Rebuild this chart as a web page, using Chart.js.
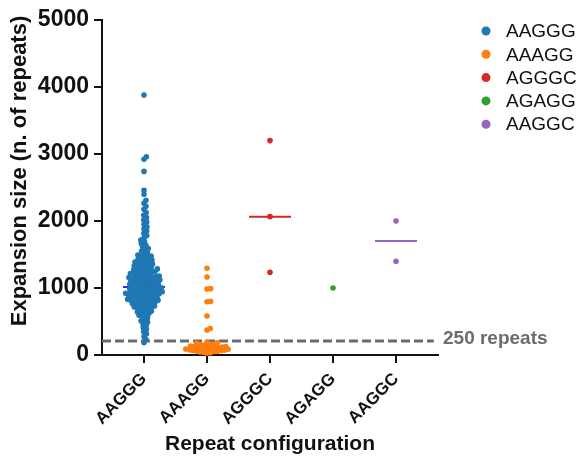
<!DOCTYPE html>
<html><head><meta charset="utf-8">
<script src="https://cdn.jsdelivr.net/npm/chart.js@4.4.1/dist/chart.umd.min.js"></script>
<style>html,body{margin:0;padding:0;background:#fff}</style>
</head><body>
<canvas id="c" width="579" height="465"></canvas>
<script>
const categories = ['AAGGG', 'AAAGG', 'AGGGC', 'AGAGG', 'AAGGC'];
const pointColors = ['#1f77b4', '#ff7f0e', '#d62728', '#2ca02c', '#9467bd'];

const valuesAAGGG = [
  185, 230, 275, 315, 350, 385, 410, 440, 465, 490,
  510, 530, 555, 575, 595,
  605, 618, 630, 643, 656, 670, 683, 695,
  702, 710, 718, 725, 733, 740, 748, 756, 764, 772, 780, 788, 796,
  801, 807, 813, 819, 825, 831, 837, 843, 849, 855, 861, 867, 873, 879, 885, 891, 897,
  900, 905, 911, 916, 922, 927, 933, 938, 944, 949, 955, 960, 966, 971, 977, 982, 988, 994,
  1002, 1008, 1014, 1020, 1027, 1033, 1039, 1045, 1052, 1058, 1064, 1071, 1077, 1084, 1091, 1097,
  1104, 1108, 1111, 1119, 1126, 1134, 1138, 1141, 1149, 1156, 1164, 1168, 1172, 1180, 1188, 1196,
  1205, 1210, 1215, 1225, 1235, 1240, 1245, 1255, 1265, 1270, 1275, 1285, 1295,
  1306, 1312, 1318, 1330, 1343, 1350, 1356, 1369, 1382, 1388, 1395,
  1408, 1418, 1425, 1442, 1458, 1465, 1475, 1492,
  1510, 1530, 1550, 1570, 1590,
  1612, 1637, 1662, 1688, 1715, 1748, 1782,
  1815, 1850, 1885, 1915, 1950, 1985, 2015, 2050, 2085,
  2125, 2175, 2220, 2265,
  2310, 2400, 2460, 2740, 2920, 2960, 3880
];
const valuesAAAGG = [
  30, 36, 42, 47, 52, 57, 61, 65, 69, 73, 77, 81, 85, 89, 93, 97,
  101, 105, 109, 113, 117, 122, 127, 132, 138, 144, 150, 157, 165, 173, 182, 192,
  373, 395, 582, 795, 800, 985, 990, 1165, 1295
];
const valuesAGGGC = [3200, 2065, 1235];
const valuesAGAGG = [1000];
const valuesAAGGC = [2000, 1400];
const seriesValues = [valuesAAGGG, valuesAAAGG, valuesAGGGC, valuesAGAGG, valuesAAGGC];

const medianValues = [1015, 100, 2065, null, 1700];
const medianColors = ['#2233ee', '#d62728', '#d62728', '#2ca02c', '#9467bd'];
const yTickValues = [0, 1000, 2000, 3000, 4000, 5000];
const thresholdValue = 210;
const thresholdLabel = '250 repeats';
const yTitle = 'Expansion size (n. of repeats)';
const xTitle = 'Repeat configuration';

// beeswarm layout (pixel-space collision avoidance)
const PX_PER_Y = 335 / 5000;
const PX_PER_CAT = 63;
const DIAM = 3.6;
function swarm(vals, idx) {
  const sorted = [...vals].sort((a, b) => a - b);
  const placed = [];
  const out = [];
  for (const v of sorted) {
    const py = v * PX_PER_Y;
    const cands = [0];
    for (const p of placed) {
      const dy = py - p.py;
      if (Math.abs(dy) < DIAM) {
        const dx = Math.sqrt(DIAM * DIAM - dy * dy);
        cands.push(p.px + dx, p.px - dx);
      }
    }
    cands.sort((a, b) => Math.abs(a) - Math.abs(b));
    let chosen = 0;
    for (const c of cands) {
      let ok = true;
      for (const p of placed) {
        const dx = c - p.px, dy = py - p.py;
        if (dx * dx + dy * dy < DIAM * DIAM - 1e-6) { ok = false; break; }
      }
      if (ok) { chosen = c; break; }
    }
    placed.push({ px: chosen, py });
    out.push({ x: idx + chosen / PX_PER_CAT, y: v });
  }
  return out;
}

const datasets = [];
categories.forEach((cat, i) => {
  datasets.push({
    type: 'scatter', label: cat, data: swarm(seriesValues[i], i),
    backgroundColor: pointColors[i], borderWidth: 0, pointRadius: 2.8,
    pointHoverRadius: 2.8, order: 1, clip: false
  });
});
categories.forEach((cat, i) => {
  if (medianValues[i] === null) return;
  datasets.push({
    type: 'line', label: '_median' + i,
    data: [{ x: i - 1 / 3, y: medianValues[i] }, { x: i + 1 / 3, y: medianValues[i] }],
    borderColor: medianColors[i], borderWidth: 2, pointRadius: 0, order: 2, clip: false
  });
});
datasets.push({
  type: 'line', label: '_threshold',
  data: [{ x: -2 / 3, y: thresholdValue }, { x: 4.6, y: thresholdValue }],
  borderColor: '#6b6b6b', borderWidth: 3, borderDash: [9, 4], pointRadius: 0, order: 3
});

const FONT = "'Liberation Sans', Arial, sans-serif";

const extras = {
  id: 'extras',
  afterDraw(chart) {
    const ctx = chart.ctx;
    ctx.save();
    ctx.font = '19px ' + FONT;
    ctx.textBaseline = 'middle';
    ctx.textAlign = 'left';
    categories.forEach((cat, i) => {
      const y = 31 + 23.3 * i;
      ctx.fillStyle = pointColors[i];
      ctx.beginPath();
      ctx.arc(486, y, 4.5, 0, Math.PI * 2);
      ctx.fill();
      ctx.fillStyle = '#111';
      ctx.fillText(cat, 506, y + 1);
    });
    const yPix = chart.scales.y.getPixelForValue(thresholdValue);
    ctx.font = 'bold 19px ' + FONT;
    ctx.fillStyle = '#6b6b6b';
    ctx.fillText(thresholdLabel, 443, yPix - 2);
    // y axis title
    ctx.translate(19.5, 171);
    ctx.rotate(-Math.PI / 2);
    ctx.font = 'bold 22px ' + FONT;
    ctx.fillStyle = '#111';
    ctx.textAlign = 'center';
    ctx.fillText(yTitle, 0, 0);
    ctx.restore();
  }
};

new Chart(document.getElementById('c'), {
  data: { datasets },
  options: {
    responsive: false,
    animation: false,
    devicePixelRatio: 1,
    layout: { padding: { top: 20, right: 141, left: 0, bottom: 0 } },
    plugins: { legend: { display: false }, tooltip: { enabled: false } },
    scales: {
      x: {
        type: 'linear', min: -2 / 3, max: 14 / 3,
        afterBuildTicks: s => { s.ticks = [0, 1, 2, 3, 4].map(v => ({ value: v })); },
        afterFit: s => { s.height = 110; },
        ticks: {
          callback: v => categories[v], autoSkip: false, maxRotation: 45, minRotation: 45,
          font: { family: FONT, size: 17, weight: 'bold' }, color: '#111', padding: 6
        },
        grid: { display: true, drawOnChartArea: false, drawTicks: true, tickLength: 8, color: '#111', lineWidth: 2 },
        border: { display: true, color: '#111', width: 2 },
        title: {
          display: true, text: xTitle, color: '#111',
          font: { family: FONT, size: 21, weight: 'bold' }, padding: { top: 4, bottom: 8 }
        }
      },
      y: {
        type: 'linear', min: 0, max: 5000,
        afterBuildTicks: s => { s.ticks = yTickValues.map(v => ({ value: v })); },
        afterFit: s => { s.width = 102; },
        ticks: {
          callback: v => String(v),
          font: { family: FONT, size: 23, weight: 'bold' }, color: '#111', padding: 5
        },
        grid: { display: true, drawOnChartArea: false, drawTicks: true, tickLength: 8, color: '#111', lineWidth: 2 },
        border: { display: true, color: '#111', width: 2 },
        title: { display: false }
      }
    }
  },
  plugins: [extras]
});
</script>
</body></html>
